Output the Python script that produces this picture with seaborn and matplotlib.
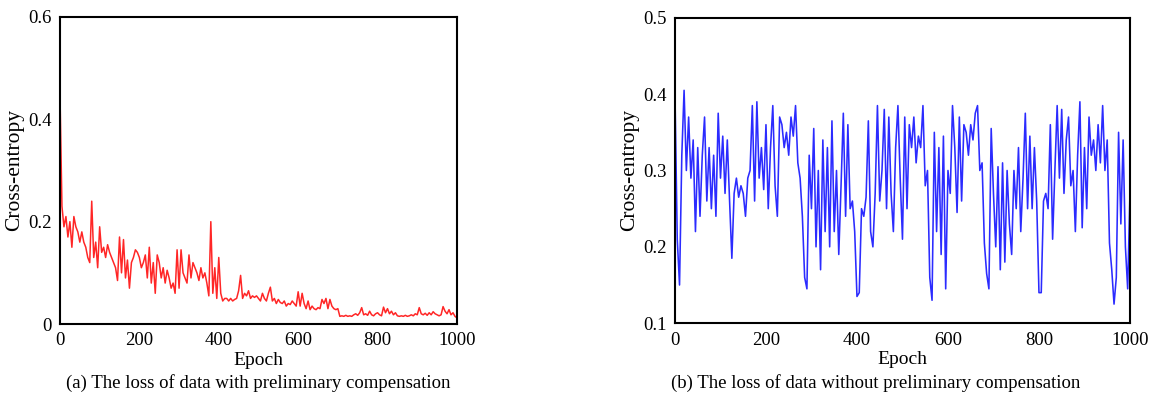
import numpy as np
import pandas as pd
import matplotlib
matplotlib.use("Agg")
import matplotlib.pyplot as plt
import seaborn as sns

# values, one every 5 epochs
epochs = list(range(0, 1001, 5))

loss_with_comp = [
    0.45, 0.23, 0.19, 0.21, 0.17, 0.20, 0.15, 0.21, 0.19, 0.18,
    0.16, 0.18, 0.16, 0.15, 0.13, 0.12, 0.24, 0.13, 0.16, 0.11,
    0.19, 0.14, 0.15, 0.13, 0.155, 0.14, 0.13, 0.12, 0.11, 0.085,
    0.17, 0.10, 0.165, 0.09, 0.125, 0.07, 0.12, 0.13, 0.145, 0.14,
    0.13, 0.11, 0.12, 0.135, 0.09, 0.15, 0.08, 0.12, 0.06, 0.135,
    0.12, 0.09, 0.11, 0.08, 0.105, 0.09, 0.07, 0.08, 0.06, 0.145,
    0.07, 0.145, 0.10, 0.09, 0.08, 0.135, 0.09, 0.12, 0.11, 0.10,
    0.085, 0.11, 0.09, 0.10, 0.08, 0.055, 0.20, 0.06, 0.11, 0.05,
    0.13, 0.06, 0.045, 0.05, 0.05, 0.045, 0.05, 0.045, 0.048, 0.05,
    0.065, 0.095, 0.05, 0.06, 0.055, 0.065, 0.05, 0.055, 0.052, 0.055,
    0.05, 0.045, 0.06, 0.05, 0.045, 0.06, 0.072, 0.045, 0.05, 0.04,
    0.048, 0.042, 0.04, 0.045, 0.035, 0.04, 0.038, 0.045, 0.04, 0.035,
    0.063, 0.035, 0.06, 0.04, 0.03, 0.045, 0.028, 0.035, 0.03, 0.028,
    0.032, 0.03, 0.048, 0.04, 0.05, 0.03, 0.048, 0.035, 0.03, 0.028,
    0.03, 0.015, 0.016, 0.015, 0.017, 0.015, 0.016, 0.015, 0.018, 0.02,
    0.017, 0.022, 0.032, 0.018, 0.02, 0.017, 0.025, 0.018, 0.016, 0.02,
    0.022, 0.018, 0.016, 0.033, 0.022, 0.03, 0.02, 0.025, 0.018, 0.022,
    0.016, 0.015, 0.016, 0.015, 0.017, 0.015, 0.016, 0.018, 0.016, 0.02,
    0.018, 0.032, 0.02, 0.018, 0.021, 0.017, 0.022, 0.018, 0.024, 0.02,
    0.018, 0.016, 0.018, 0.034, 0.025, 0.02, 0.028, 0.018, 0.022, 0.015,
    0.012,
]

loss_without_comp = [
    0.40, 0.21, 0.15, 0.32, 0.405, 0.30, 0.37, 0.29, 0.34, 0.22,
    0.33, 0.24, 0.32, 0.37, 0.26, 0.33, 0.25, 0.32, 0.24, 0.375,
    0.29, 0.345, 0.27, 0.34, 0.26, 0.185, 0.27, 0.29, 0.265, 0.28,
    0.27, 0.24, 0.29, 0.30, 0.385, 0.26, 0.39, 0.29, 0.33, 0.275,
    0.36, 0.25, 0.33, 0.385, 0.28, 0.24, 0.37, 0.36, 0.33, 0.35,
    0.32, 0.37, 0.345, 0.385, 0.31, 0.29, 0.24, 0.16, 0.145, 0.32,
    0.25, 0.355, 0.20, 0.30, 0.17, 0.34, 0.22, 0.33, 0.20, 0.365,
    0.22, 0.30, 0.19, 0.28, 0.375, 0.24, 0.36, 0.25, 0.26, 0.22,
    0.135, 0.14, 0.25, 0.24, 0.265, 0.365, 0.22, 0.20, 0.27, 0.385,
    0.26, 0.30, 0.38, 0.25, 0.37, 0.27, 0.22, 0.33, 0.385, 0.29,
    0.21, 0.37, 0.25, 0.36, 0.33, 0.37, 0.31, 0.345, 0.33, 0.385,
    0.28, 0.30, 0.16, 0.13, 0.35, 0.22, 0.33, 0.19, 0.345, 0.145,
    0.30, 0.27, 0.385, 0.33, 0.245, 0.37, 0.26, 0.36, 0.35, 0.32,
    0.36, 0.34, 0.375, 0.385, 0.30, 0.31, 0.205, 0.165, 0.145, 0.355,
    0.27, 0.20, 0.305, 0.17, 0.31, 0.18, 0.30, 0.23, 0.19, 0.30,
    0.25, 0.33, 0.22, 0.29, 0.375, 0.25, 0.345, 0.25, 0.33, 0.26,
    0.14, 0.14, 0.26, 0.27, 0.25, 0.36, 0.21, 0.30, 0.385, 0.29,
    0.38, 0.27, 0.34, 0.37, 0.28, 0.30, 0.22, 0.32, 0.39, 0.225,
    0.33, 0.25, 0.37, 0.32, 0.34, 0.30, 0.36, 0.31, 0.385, 0.30,
    0.34, 0.205, 0.17, 0.125, 0.16, 0.35, 0.23, 0.34, 0.20, 0.145,
    0.27,
]

x_ticks = [0, 200, 400, 600, 800, 1000]
y_ticks_a = [0, 0.2, 0.4, 0.6]
y_ticks_b = [0.1, 0.2, 0.3, 0.4, 0.5]
captions = ["(a) The loss of data with preliminary compensation",
            "(b) The loss of data without preliminary compensation"]

sns.set_style("white")
plt.rcParams['font.family'] = ['Liberation Serif', 'DejaVu Serif']
plt.rcParams['text.color'] = 'black'
plt.rcParams['axes.labelcolor'] = 'black'

df = pd.DataFrame({"Epoch": epochs,
                   "with": loss_with_comp,
                   "without": loss_without_comp})

fig = plt.figure(figsize=(11.69, 4.04), dpi=100)
ax1 = fig.add_axes([0.0513, 0.198, 0.3396, 0.760])
ax2 = fig.add_axes([0.5774, 0.200, 0.3892, 0.756])

sns.lineplot(data=df, x="Epoch", y="with", ax=ax1, color="#ff2626", linewidth=1.1)
sns.lineplot(data=df, x="Epoch", y="without", ax=ax2, color="#2b2bff", linewidth=1.15)

def fmt(v):
    return "0" if v == 0 else f"{v:g}"

for ax, yt, lim in [(ax1, y_ticks_a, (0, 0.6)), (ax2, y_ticks_b, (0.1, 0.5))]:
    ax.set_xlim(0, 1000)
    ax.set_ylim(*lim)
    ax.set_xticks(x_ticks)
    ax.set_yticks(yt)
    ax.set_yticklabels([fmt(v) for v in yt])
    ax.tick_params(direction="in", length=5, width=1.5, labelsize=13.5, pad=6,
                   colors="black")
    ax.set_xlabel("Epoch", fontsize=14, labelpad=2)
    ax.set_ylabel("Cross-entropy", fontsize=15.5, labelpad=3)
    for s in ax.spines.values():
        s.set_linewidth(1.5)
        s.set_color("black")

fig.text(0.221, 0.052, captions[0], ha="center", va="center", fontsize=13.5)
fig.text(0.749, 0.052, captions[1], ha="center", va="center", fontsize=13.5)

fig.savefig("out.png", dpi=100)
